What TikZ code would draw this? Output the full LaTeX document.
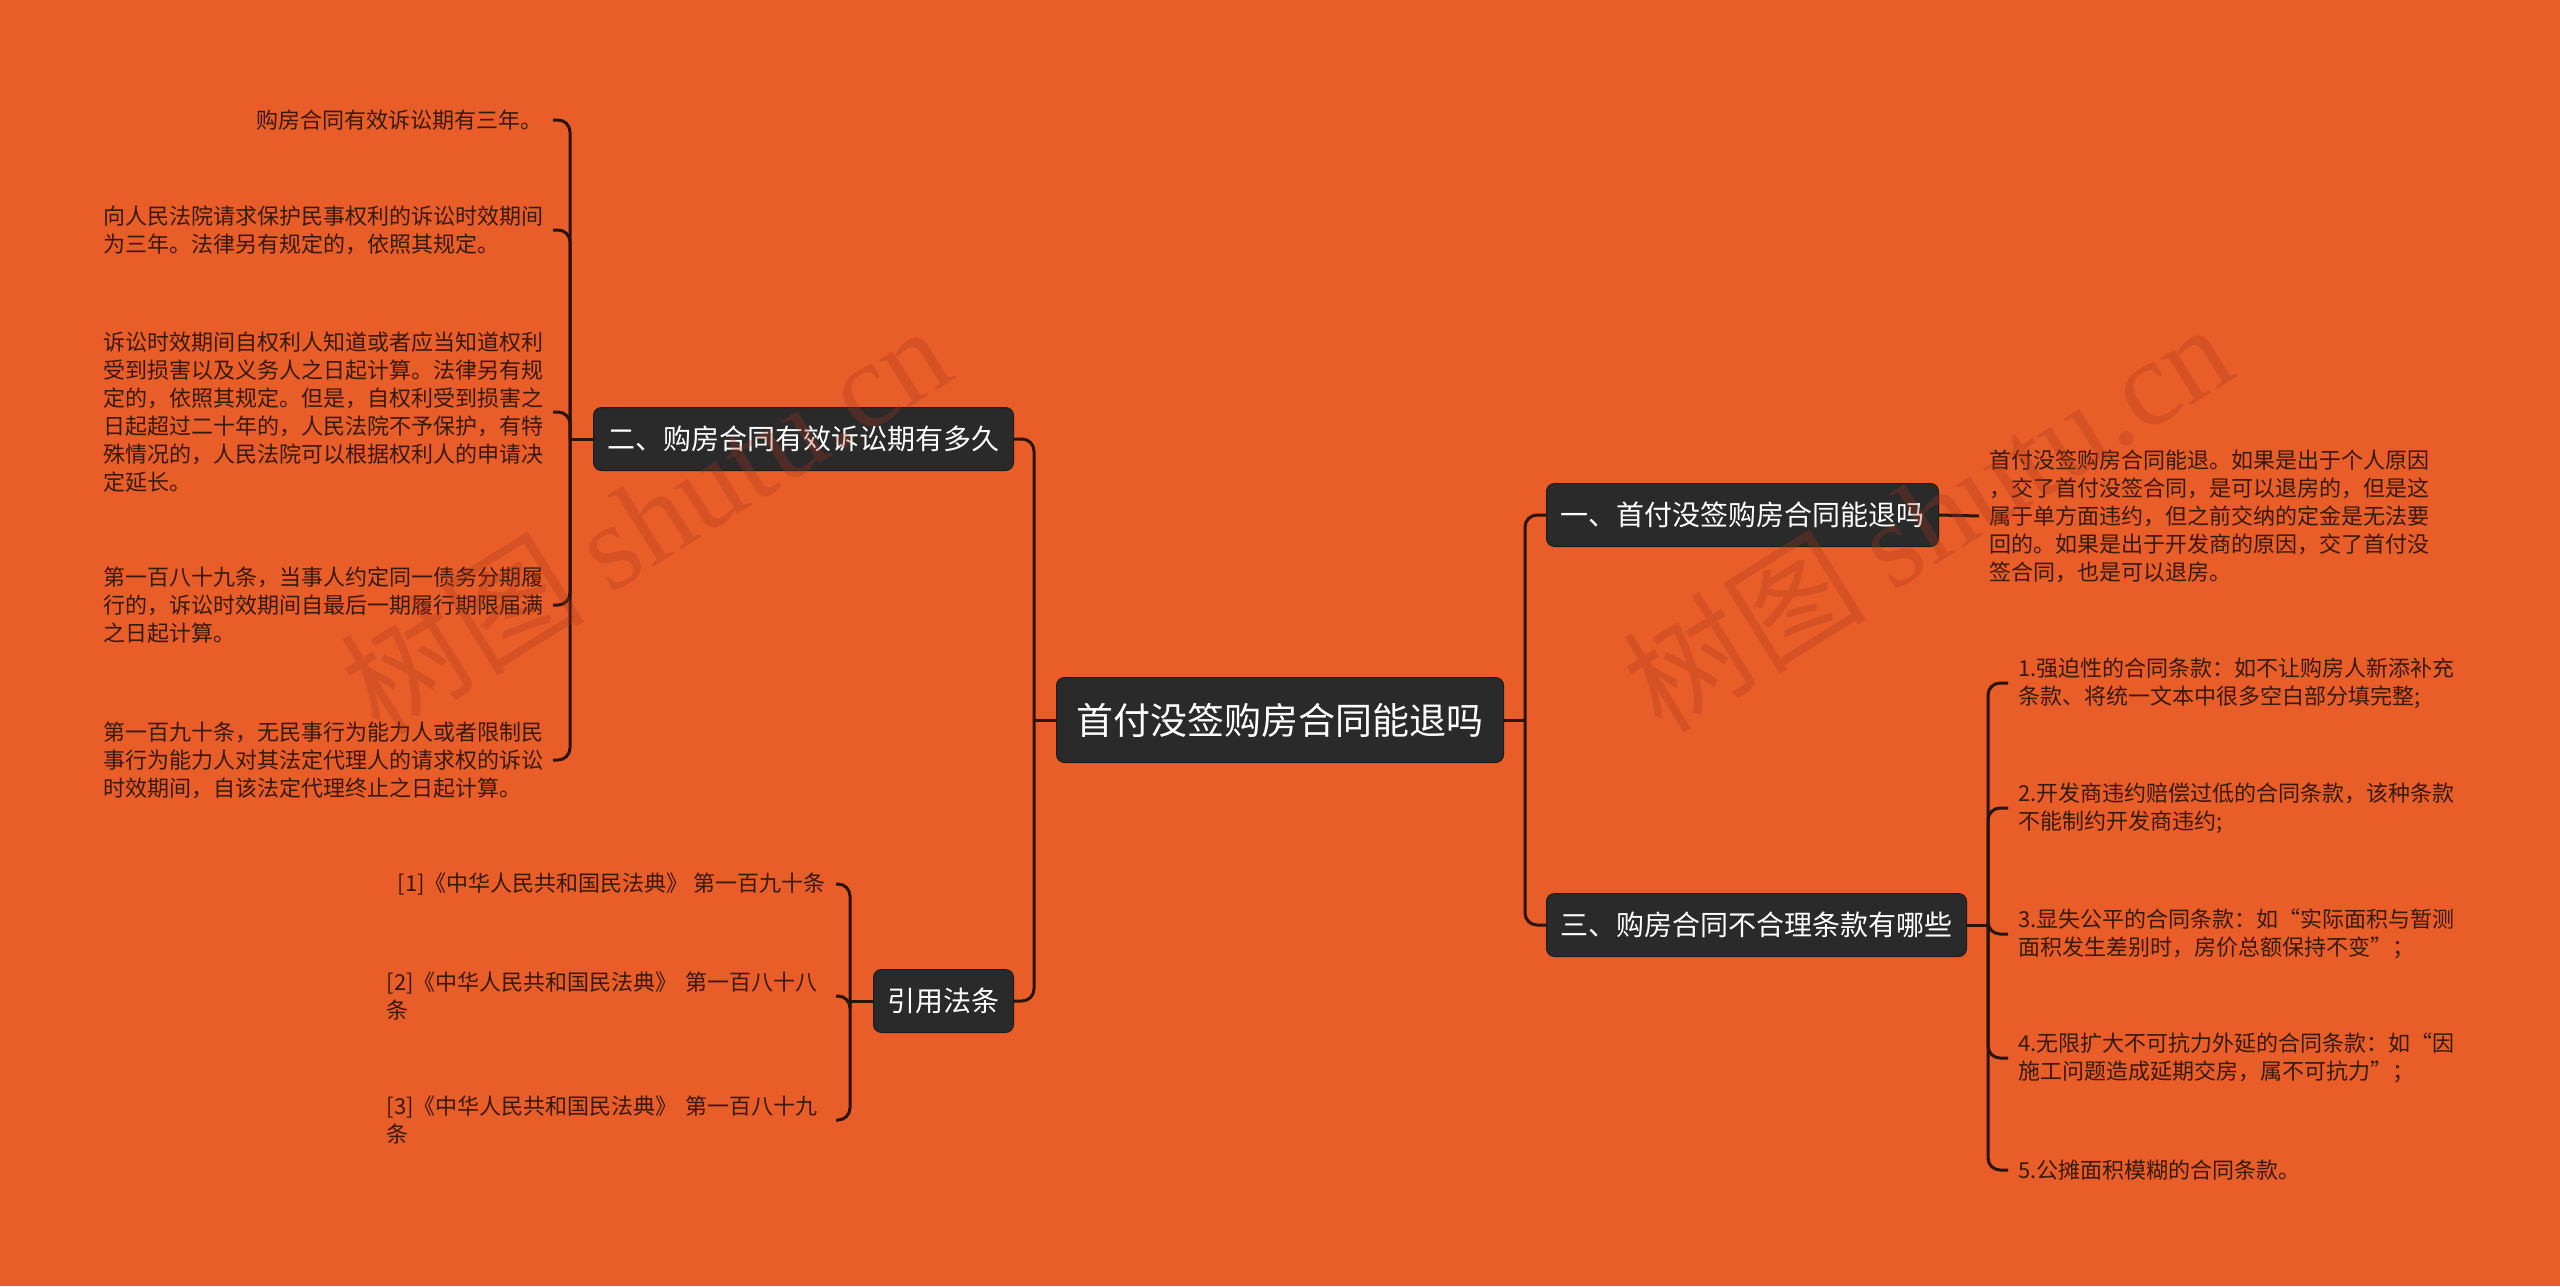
\documentclass[tikz,border=0pt]{standalone}
\usepackage{fontspec}
\setmainfont{Noto Sans CJK SC}
\newfontfamily\wmlatin{Liberation Serif}
\usetikzlibrary{calc}
\definecolor{bg}{HTML}{E95D29}
\definecolor{boxfill}{HTML}{2A2A2A}
\definecolor{boxline}{HTML}{1C1C1C}
\definecolor{conncol}{HTML}{2A140A}
\definecolor{leaftext}{HTML}{361A0D}
\definecolor{wmcol}{HTML}{A8361E}
\begin{document}
\begin{tikzpicture}[x=1pt,y=-1pt,
  topic/.style={draw=boxline, fill=boxfill, text=white, rounded corners=8pt, line width=1pt, inner xsep=14pt, inner ysep=0pt, minimum height=63pt, font=\fontsize{28pt}{34pt}\selectfont},
  rootbox/.style={topic, inner xsep=20pt, minimum height=85pt, font=\fontsize{37pt}{44pt}\selectfont},
  leaf/.style={text=leaftext, inner xsep=10pt, inner ysep=2pt, font=\fontsize{22pt}{28pt}\selectfont, align=left},
  leafw/.style={leaf, text width=439pt},
  conn/.style={draw=conncol, line width=3pt, rounded corners=12pt},
  wm/.style={text=wmcol, opacity=0.28, font=\fontsize{122pt}{122pt}\selectfont, rotate=32}
]
\fill[bg] (0,0) rectangle (2560,1286);

% main topics
\node[rootbox] (root) at (1280,720) {首付没签购房合同能退吗};
\node[topic, anchor=east] (b2) at (1014,439) {二、购房合同有效诉讼期有多久};
\node[topic, anchor=east] (b4) at (1014,1001) {引用法条};
\node[topic, anchor=west] (b1) at (1546,515) {一、首付没签购房合同能退吗};
\node[topic, anchor=west] (b3) at (1546,925) {三、购房合同不合理条款有哪些};

% left leaves
\node[leaf, anchor=east] (a1) at (553,120) {购房合同有效诉讼期有三年。};
\node[leafw, anchor=east] (a2) at (553,230) {向人民法院请求保护民事权利的诉讼时效期间\\为三年。法律另有规定的，依照其规定。};
\node[leafw, anchor=east] (a3) at (553,412) {诉讼时效期间自权利人知道或者应当知道权利\\受到损害以及义务人之日起计算。法律另有规\\定的，依照其规定。但是，自权利受到损害之\\日起超过二十年的，人民法院不予保护，有特\\殊情况的，人民法院可以根据权利人的申请决\\定延长。};
\node[leafw, anchor=east] (a4) at (553,605) {第一百八十九条，当事人约定同一债务分期履\\行的，诉讼时效期间自最后一期履行期限届满\\之日起计算。};
\node[leafw, anchor=east] (a5) at (553,760) {第一百九十条，无民事行为能力人或者限制民\\事行为能力人对其法定代理人的请求权的诉讼\\时效期间，自该法定代理终止之日起计算。};

% citations
\node[leaf, anchor=east] (k1) at (836,884) {[1]《中华人民共和国民法典》 第一百九十条};
\node[leafw, anchor=east] (k2) at (836,996) {[2]《中华人民共和国民法典》 第一百八十八\\条};
\node[leafw, anchor=east] (k3) at (836,1120) {[3]《中华人民共和国民法典》 第一百八十九\\条};

% right leaves
\node[leafw, anchor=west] (r1) at (1979,516) {首付没签购房合同能退。如果是出于个人原因\\，交了首付没签合同，是可以退房的，但是这\\属于单方面违约，但之前交纳的定金是无法要\\回的。如果是出于开发商的原因，交了首付没\\签合同，也是可以退房。};
\node[leaf, anchor=west] (i1) at (2008,683) {1.强迫性的合同条款：如不让购房人新添补充\\条款、将统一文本中很多空白部分填完整;};
\node[leaf, anchor=west] (i2) at (2008,808) {2.开发商违约赔偿过低的合同条款，该种条款\\不能制约开发商违约;};
\node[leaf, anchor=west] (i3) at (2008,934) {3.显失公平的合同条款：如“实际面积与暂测\\面积发生差别时，房价总额保持不变”；};
\node[leaf, anchor=west] (i4) at (2008,1058) {4.无限扩大不可抗力外延的合同条款：如“因\\施工问题造成延期交房，属不可抗力”；};
\node[leaf, anchor=west] (i5) at (2008,1170) {5.公摊面积模糊的合同条款。};

% connectors
\coordinate (lj) at ($(root.west)+(-22,0)$);
\draw[conn] (root.west) -- (lj);
\draw[conn] (b2.east) -| (lj);
\draw[conn] (b4.east) -| (lj);

\coordinate (rj) at ($(root.east)+(21,0)$);
\draw[conn] (root.east) -- (rj);
\draw[conn] (b1.west) -| (rj);
\draw[conn] (b3.west) -| (rj);

\coordinate (lj2) at ($(b2.west)+(-23,0)$);
\draw[conn] (b2.west) -- (lj2);
\foreach \n in {a1,a2,a3,a4,a5} \draw[conn] (\n.east) -| (lj2);

\coordinate (lj4) at ($(b4.west)+(-23,0)$);
\draw[conn] (b4.west) -- (lj4);
\foreach \n in {k1,k2,k3} \draw[conn] (\n.east) -| (lj4);

\draw[conn] (b1.east) -- (r1.west);

\coordinate (rj3) at ($(b3.east)+(21,0)$);
\draw[conn] (b3.east) -- (rj3);
\foreach \n in {i1,i2,i3,i4,i5} \draw[conn] (\n.west) -| (rj3);

% watermarks
\node[wm] (wm1) at (645,518) {树图 {\wmlatin shutu.cn}};
\node[wm] (wm2) at (1927,516) {树图 {\wmlatin shutu.cn}};
\end{tikzpicture}
\end{document}
